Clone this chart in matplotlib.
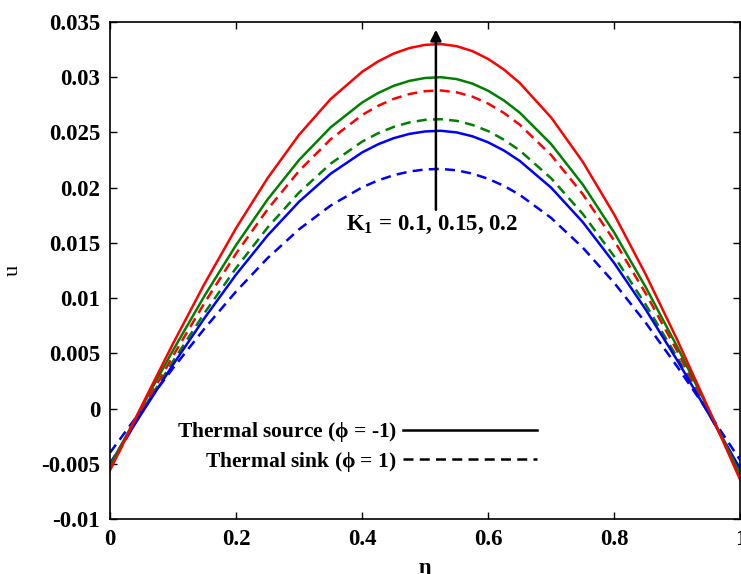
import numpy as np
import matplotlib.pyplot as plt
from matplotlib.lines import Line2D

# Valores (perfil de velocidad u vs eta)

eta = [0.0, 0.05, 0.10, 0.15, 0.20, 0.25, 0.30, 0.35, 0.40,
       0.425, 0.45, 0.475, 0.50, 0.525, 0.55, 0.575, 0.60, 0.625,
       0.65, 0.70, 0.75, 0.80, 0.85, 0.90, 0.95, 1.0]

# fuente termica (phi = -1), lineas continuas
u_src_01 = [-0.0050, -0.00046, 0.00397, 0.00820, 0.01213, 0.01567, 0.01873,
            0.02126, 0.02319, 0.02392, 0.02448, 0.02487, 0.02509, 0.02515,
            0.02500, 0.02465, 0.02410, 0.02336, 0.02242, 0.01999, 0.01688,
            0.01316, 0.00895, 0.00435, -0.00051, -0.0055]
u_src_015 = [-0.0052, 0.00010, 0.00527, 0.01021, 0.01480, 0.01893, 0.02251,
             0.02546, 0.02771, 0.02856, 0.02922, 0.02967, 0.02993, 0.0300,
             0.02983, 0.02942, 0.02877, 0.02789, 0.02679, 0.02393, 0.02028,
             0.01592, 0.01097, 0.00557, -0.00014, -0.0060]
u_src_02 = [-0.0056, 0.00021, 0.00588, 0.01130, 0.01633, 0.02086, 0.02479,
            0.02802, 0.03049, 0.03142, 0.03214, 0.03264, 0.03293, 0.0330,
            0.03281, 0.03236, 0.03165, 0.03069, 0.02948, 0.02634, 0.02234,
            0.01755, 0.01212, 0.00620, -0.00007, -0.0065]

# sumidero termico (phi = 1), lineas discontinuas
u_snk_01 = [-0.0040, -0.00013, 0.00365, 0.00725, 0.01060, 0.01362, 0.01623,
            0.01838, 0.02003, 0.02065, 0.02113, 0.02146, 0.02165, 0.0217,
            0.02157, 0.02127, 0.02080, 0.02016, 0.01935, 0.01725, 0.01457,
            0.01137, 0.00775, 0.00378, -0.00040, -0.0047]
u_snk_015 = [-0.0050, -0.00030, 0.00428, 0.00866, 0.01272, 0.01639, 0.01956,
             0.02217, 0.02417, 0.02492, 0.02550, 0.02591, 0.02614, 0.0262,
             0.02605, 0.02568, 0.02512, 0.02434, 0.02337, 0.02084, 0.01762,
             0.01376, 0.00939, 0.00462, -0.00042, -0.0056]
u_snk_02 = [-0.0054, -0.00025, 0.00477, 0.00957, 0.01403, 0.01804, 0.02152,
            0.02438, 0.02658, 0.02740, 0.02804, 0.02848, 0.02874, 0.0288,
            0.02863, 0.02824, 0.02761, 0.02676, 0.02570, 0.02294, 0.01941,
            0.01519, 0.01040, 0.00518, -0.00033, -0.0060]

xticks = [0, 0.2, 0.4, 0.6, 0.8, 1]
xticklabels = ["0", "0.2", "0.4", "0.6", "0.8", "1"]
yticks = [-0.01, -0.005, 0, 0.005, 0.01, 0.015, 0.02, 0.025, 0.03, 0.035]
yticklabels = ["-0.01", "-0.005", "0", "0.005", "0.01", "0.015", "0.02",
               "0.025", "0.03", "0.035"]

plt.rcParams['font.family'] = ['Liberation Serif', 'DejaVu Serif']
plt.rcParams['font.weight'] = 'bold'
plt.rcParams['mathtext.fontset'] = 'custom'
plt.rcParams['mathtext.rm'] = 'Liberation Serif:bold'
plt.rcParams['mathtext.it'] = 'Liberation Serif:bold'

verde = (0.0, 0.5, 0.0)
lw = 1.8
dash = (4, 2.5)

fig = plt.figure(figsize=(7.41, 5.74), dpi=100)
ax = fig.add_axes([0.1484, 0.0958, 0.8508, 0.8659])

ax.plot(eta, u_snk_01, color="b", lw=lw, dashes=dash)
ax.plot(eta, u_snk_015, color=verde, lw=lw, dashes=dash)
ax.plot(eta, u_snk_02, color="r", lw=lw, dashes=dash)
ax.plot(eta, u_src_01, color="b", lw=lw)
ax.plot(eta, u_src_015, color=verde, lw=lw)
ax.plot(eta, u_src_02, color="r", lw=lw)

# flecha y texto de K1
ax.annotate("", xy=(0.517, 0.0343), xytext=(0.517, 0.0180),
            arrowprops=dict(arrowstyle="-|>", color="k", lw=1.8,
                            mutation_scale=16, shrinkA=0, shrinkB=0))
ax.text(0.511, 0.0166, r"K$_{1}$ = 0.1, 0.15, 0.2", fontsize=16.5,
        ha="center", va="center")

# leyenda tipo MATLAB
handles = [Line2D([], [], color="k", lw=1.8),
           Line2D([], [], color="k", lw=1.8, dashes=(4, 2.5))]
labels = [r"Thermal source ($\phi$ = -1)", r"Thermal sink ($\phi$ = 1)"]
ax.legend(handles, labels, loc="center right", bbox_to_anchor=(0.677, 0.145),
          frameon=False, markerfirst=False, handlelength=6.2,
          handletextpad=0.3, labelspacing=0.25, borderpad=0, borderaxespad=0,
          prop=dict(size=15.5, weight="bold"))

ax.set_xlim(0, 1)
ax.set_ylim(-0.01, 0.035)
ax.set_xticks(xticks)
ax.set_xticklabels(xticklabels)
ax.set_yticks(yticks)
ax.set_yticklabels(yticklabels)
ax.tick_params(direction="in", length=5, width=1, top=True, right=True,
               labelsize=16.5, pad=7)
for s in ax.spines.values():
    s.set_linewidth(1.2)

ax.set_xlabel(r"$\eta$", fontsize=16)
ax.xaxis.set_label_coords(0.5, -0.085)
ax.set_ylabel("u", fontsize=16)
ax.yaxis.set_label_coords(-0.138, 0.5)

plt.savefig("out.png", dpi=100)
